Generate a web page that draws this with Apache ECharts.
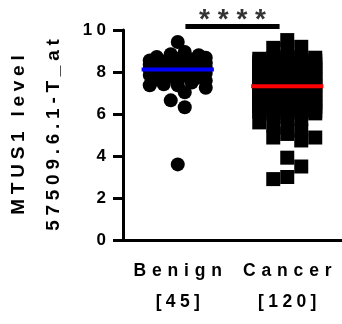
<!DOCTYPE html>
<html lang="en">
  <head>
    <meta charset="UTF-8" />
    <title>MTUS1 level</title>
    <script src="https://cdn.jsdelivr.net/npm/echarts@6/dist/echarts.min.js"></script>
    <style>
      html, body { margin: 0; padding: 0; background: #fff; }
    </style>
  </head>
  <body>
    <div id="main" style="width: 342px; height: 324px;"></div>
    <script type="text/javascript">
      // data
      var categories = ["Benign", "Cancer"];
      var counts = [45, 120];
      var benignValues = [
        9.43, 8.95, 8.85, 8.8, 8.72, 8.68, 8.62, 8.58, 8.55, 8.5, 8.46, 8.42,
        8.4, 8.36, 8.33, 8.3, 8.27, 8.24, 8.2, 8.18, 8.15, 8.12, 8.1, 8.08,
        8.05, 8.02, 7.98, 7.95, 7.9, 7.86, 7.82, 7.78, 7.74, 7.7, 7.64, 7.58,
        7.5, 7.42, 7.37, 7.37, 7.25, 7.03, 6.65, 6.32, 3.6
      ];
      var cancerValues = [
        9.52, 9.2, 9.15, 9.1,
        8.72, 8.7, 8.68, 8.66, 8.63, 8.6, 8.57, 8.54, 8.52, 8.49, 8.46, 8.44,
        8.41, 8.38, 8.36, 8.33, 8.3, 8.28, 8.25, 8.22, 8.2, 8.17, 8.14, 8.12,
        8.09, 8.06, 8.04, 8.01, 7.98, 7.96, 7.93, 7.9, 7.88, 7.85, 7.82, 7.8,
        7.77, 7.74, 7.72, 7.69, 7.66, 7.64, 7.61, 7.58, 7.56, 7.53, 7.5, 7.48,
        7.45, 7.42, 7.4, 7.38, 7.36, 7.35, 7.34, 7.33,
        7.31, 7.28, 7.25, 7.21, 7.18, 7.15, 7.11, 7.08, 7.05, 7.01, 6.98, 6.95,
        6.93, 6.91, 6.88, 6.85, 6.81, 6.78, 6.75, 6.73, 6.71, 6.68, 6.65, 6.61,
        6.58, 6.55, 6.53, 6.51, 6.48, 6.45, 6.41, 6.38, 6.35, 6.33, 6.31, 6.28,
        6.25, 6.21, 6.18, 6.15, 6.13, 6.11, 6.08, 6.05, 6.03, 6.01,
        5.88, 5.75, 5.6, 5.47, 5.35, 5.22,
        5.05, 4.88, 4.88, 4.74,
        3.92, 3.5, 3.0, 2.9
      ];
      var centerLines = [8.12, 7.32]; // blue / red lines
      var sigLabel = "****";
      var sigBar = [0.57, 1.43]; // x range on the 0..2 position axis
      var sigLevel = 10.17;

      var yMin = 0, yMax = 10, yStep = 2;

      var FONT = "'Liberation Sans', Arial, sans-serif";
      var SP3 = "\u2004", SP4 = "\u2005";
      var grid = { left: 123, right: 0, top: 30, bottom: 84 };

      function spaced(s, sp) {
        return s.split("").join(sp);
      }

      var myChart = echarts.init(document.getElementById("main"));
      var pxPerX = (myChart.getWidth() - grid.left - grid.right) / 2;
      var pxPerY = (myChart.getHeight() - grid.top - grid.bottom) / (yMax - yMin);

      // simple beeswarm: put each point in the column with least overlap,
      // with a small pull toward the centre
      function swarm(values, center, size, cap, square, pull) {
        var step = size / 2;
        var offs = [0];
        for (var k = 1; k * step <= cap + 0.01; k++) offs.push(k * step, -k * step);
        var order = values.map(function (v, i) { return i; });
        order.sort(function (a, b) { return values[b] - values[a]; });
        var placed = [];
        order.forEach(function (i) {
          var py = values[i] * pxPerY;
          var best = 0, bestCost = Infinity;
          offs.forEach(function (dx) {
            var cost = Math.abs(dx) * pull;
            placed.forEach(function (p) {
              var ox = size - Math.abs(p.x - dx);
              var oy = size - Math.abs(p.y - py);
              if (square) {
                if (ox > 0 && oy > 0) cost += ox * oy;
              } else {
                var d = Math.sqrt((p.x - dx) * (p.x - dx) + (p.y - py) * (p.y - py));
                if (d < size) cost += (size - d) * (size - d);
              }
            });
            if (cost < bestCost) { bestCost = cost; best = dx; }
          });
          placed.push({ x: best, y: py, v: values[i] });
        });
        return placed.map(function (p) { return [center + p.x / pxPerX, p.v]; });
      }

      var halfLine = 0.33;
      function centerLine(idx) {
        var c = idx + 0.5;
        return [[c - halfLine, centerLines[idx]], [c + halfLine, centerLines[idx]]];
      }

      option = {
        animation: false,
        backgroundColor: "#fff",
        grid: Object.assign({ outerBoundsMode: "none" }, grid),
        xAxis: [
          {
            type: "category",
            data: categories,
            boundaryGap: true,
            axisLine: { onZero: false, lineStyle: { color: "#000", width: 3 } },
            axisTick: { alignWithLabel: true, length: 8, lineStyle: { color: "#000", width: 3 } },
            axisLabel: {
              margin: 16,
              formatter: function (name) {
                var n = categories.indexOf(name);
                return "{a|" + spaced(name, SP3) + "}\n{b|" + spaced("[" + counts[n] + "]", SP4) + "}";
              },
              rich: {
                a: { fontFamily: FONT, fontWeight: "bold", fontSize: 17.5, color: "#000", lineHeight: 31 },
                b: { fontFamily: FONT, fontWeight: "bold", fontSize: 17.5, color: "#000", lineHeight: 31 }
              }
            },
            splitLine: { show: false }
          },
          { type: "value", min: 0, max: 2, show: false }
        ],
        yAxis: {
          type: "value",
          min: yMin,
          max: yMax,
          interval: yStep,
          name: spaced("MTUS1 level", SP4) + "\n" + spaced("57509.6.1-T_at", SP4),
          nameLocation: "middle",
          nameRotate: 90,
          nameGap: 52,
          nameTextStyle: { fontFamily: FONT, fontWeight: "bold", fontSize: 19, color: "#000", lineHeight: 35 },
          axisLine: { show: true, onZero: false, lineStyle: { color: "#000", width: 3 } },
          axisTick: { show: true, length: 10, lineStyle: { color: "#000", width: 3 } },
          axisLabel: {
            margin: 17,
            fontFamily: FONT,
            fontWeight: "bold",
            fontSize: 17,
            color: "#000",
            formatter: function (v) { return spaced(String(v), SP4); }
          },
          splitLine: { show: false }
        },
        series: [
          {
            type: "scatter",
            xAxisIndex: 1,
            symbol: "circle",
            symbolSize: 14,
            itemStyle: { color: "#000", opacity: 1 },
            data: swarm(benignValues, 0.5, 14, 29, false, 0.5)
          },
          {
            type: "scatter",
            xAxisIndex: 1,
            symbol: "rect",
            symbolSize: 14,
            itemStyle: { color: "#000", opacity: 1 },
            data: swarm(cancerValues, 1.5, 14, 28, true, 4)
          },
          {
            type: "line",
            xAxisIndex: 1,
            symbol: "none",
            lineStyle: { color: "#0000ff", width: 4 },
            data: centerLine(0)
          },
          {
            type: "line",
            xAxisIndex: 1,
            symbol: "none",
            lineStyle: { color: "#ff0000", width: 4 },
            data: centerLine(1)
          },
          {
            type: "line",
            xAxisIndex: 1,
            symbol: "none",
            clip: false,
            lineStyle: { color: "#000", width: 5 },
            data: [[sigBar[0], sigLevel], [sigBar[1], sigLevel]]
          },
          {
            type: "scatter",
            xAxisIndex: 1,
            symbolSize: 0,
            clip: false,
            label: {
              show: true,
              position: "top",
              distance: -8,
              formatter: function () { return sigLabel.split("").join(" "); },
              fontFamily: FONT,
              fontWeight: "bold",
              fontSize: 28,
              color: "#000"
            },
            data: [[(sigBar[0] + sigBar[1]) / 2, sigLevel]]
          }
        ]
      };

      myChart.setOption(option);
    </script>
  </body>
</html>
